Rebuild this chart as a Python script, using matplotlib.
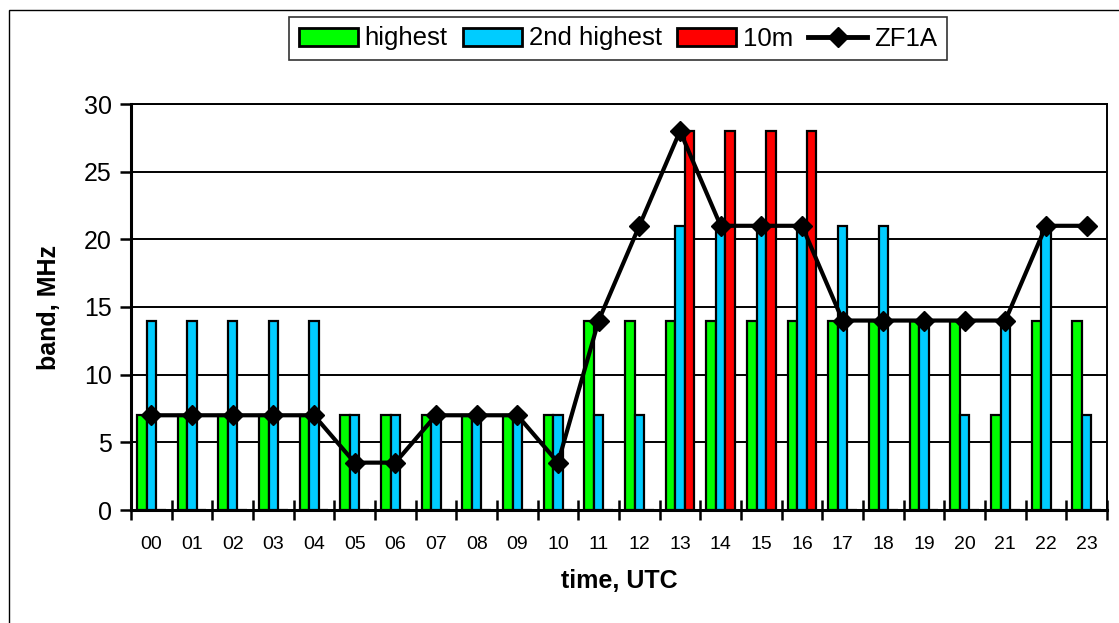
import matplotlib
matplotlib.use("Agg")
import matplotlib.pyplot as plt
from matplotlib.patches import Rectangle, Patch
from matplotlib.lines import Line2D
import numpy as np

plt.rcParams['font.family'] = ['Liberation Sans', 'DejaVu Sans']

hours = ["00", "01", "02", "03", "04", "05", "06", "07", "08", "09", "10", "11",
         "12", "13", "14", "15", "16", "17", "18", "19", "20", "21", "22", "23"]
highest = [7, 7, 7, 7, 7, 7, 7, 7, 7, 7, 7, 14, 14, 14, 14, 14, 14, 14, 14, 14, 14, 7, 14, 14]
second_highest = [14, 14, 14, 14, 14, 7, 7, 7, 7, 7, 7, 7, 7, 21, 21, 21, 21, 21, 21, 14, 7, 14, 21, 7]
ten_m = [0, 0, 0, 0, 0, 0, 0, 0, 0, 0, 0, 0, 0, 28, 28, 28, 28, 0, 0, 0, 0, 0, 0, 0]
zf1a = [7, 7, 7, 7, 7, 3.5, 3.5, 7, 7, 7, 3.5, 14, 21, 28, 21, 21, 21, 14, 14, 14, 14, 14, 21, 21]

W, H = 1119, 623
fig = plt.figure(figsize=(W / 100, H / 100), dpi=100)

# outer chart border (partially cropped)
fig.patches.append(Rectangle((9 / W, -0.5), 2.0, 1.5 - 10 / H, transform=fig.transFigure,
                             fill=False, edgecolor='black', linewidth=1.0, zorder=0))

left, right, top, bottom = 131, 1107, 104, 510
ax = fig.add_axes([left / W, 1 - bottom / H, (right - left) / W, (bottom - top) / H])

x = np.arange(len(hours))
bw = 0.235
ax.bar(x - bw, highest, bw, color='#00FF00', edgecolor='black', linewidth=1.6, zorder=3)
ax.bar(x, second_highest, bw, color='#00CCFF', edgecolor='black', linewidth=1.6, zorder=3)
ax.bar(x + bw, ten_m, bw, color='#FF0000', edgecolor='black', linewidth=1.6, zorder=3)
ax.plot(x, zf1a, color='black', linewidth=3, marker='D', markersize=10, zorder=5)

ax.set_xlim(-0.5, len(hours) - 0.5)
ax.set_ylim(0, 30)
ax.set_yticks(range(0, 31, 5))
ax.yaxis.grid(True, color='black', linewidth=1.4, zorder=0)
ax.set_axisbelow(True)

ax.set_xticks(np.arange(-0.5, len(hours), 1))
ax.set_xticklabels([])
ax.set_xticks(x, minor=True)
ax.set_xticklabels(hours, minor=True, fontsize=14)
ax.tick_params(axis='x', which='major', direction='inout', length=14, width=1.8)
ax.tick_params(axis='x', which='minor', length=0, pad=19)
ax.tick_params(axis='y', direction='out', length=8, width=1.8, labelsize=18, pad=6)

for s in ['left', 'bottom']:
    ax.spines[s].set_linewidth(2.2)
for s in ['top', 'right']:
    ax.spines[s].set_linewidth(1.4)

ax.set_xlabel('time, UTC', fontsize=18, fontweight='bold', labelpad=11)
ax.set_ylabel('band, MHz', fontsize=18, fontweight='bold', labelpad=16)

handles = [Patch(facecolor='#00FF00', edgecolor='black', linewidth=2),
           Patch(facecolor='#00CCFF', edgecolor='black', linewidth=2),
           Patch(facecolor='#FF0000', edgecolor='black', linewidth=2),
           Line2D([], [], color='black', linewidth=3.5, marker='D', markersize=10)]
leg = fig.legend(handles, ['highest', '2nd highest', '10m', 'ZF1A'], loc='center',
                 bbox_to_anchor=(618 / W, 1 - 38.5 / H), ncol=4, fontsize=18.5,
                 frameon=True, fancybox=False, edgecolor='black', handlelength=2.3,
                 handleheight=0.7, handletextpad=0.25, columnspacing=0.6,
                 borderpad=0.38, borderaxespad=0)
leg.get_frame().set_linewidth(1.2)

fig.savefig('out.png', dpi=100, facecolor='white')
